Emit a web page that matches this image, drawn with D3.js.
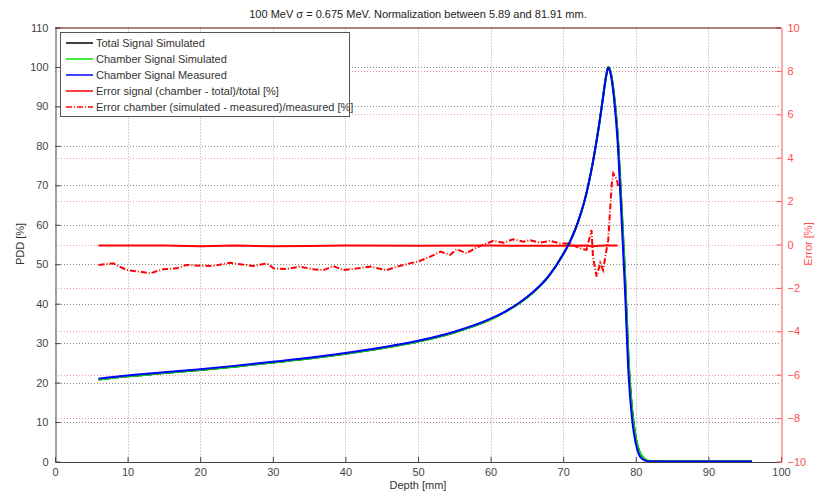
<!DOCTYPE html>
<html>
<head>
<meta charset="utf-8">
<script src="https://cdn.jsdelivr.net/npm/d3@7"></script>
<style>
body { margin: 0; background: #fff; }
text { font-family: "Liberation Sans", Arial, sans-serif; }
</style>
</head>
<body>
<script>
// depth grid for the PDD curves [mm]
var depth = [6, 10, 15, 20, 25, 30, 35, 40, 45, 50, 55, 60, 62, 64, 66, 68, 70, 71, 72, 73, 74, 75, 75.5, 76, 76.2, 76.5, 77, 77.5, 78, 78.5, 79, 79.5, 80, 80.5, 81, 81.5, 82, 85, 90, 96];
var totalSim = [20.8, 21.6, 22.4, 23.2, 24.1, 25.1, 26.1, 27.3, 28.7, 30.4, 32.7, 36.0, 37.9, 40.2, 43.1, 47.0, 52.6, 56.0, 60.5, 66.5, 75.0, 86.0, 92.5, 98.6, 100, 99.0, 93.0, 83.0, 66.0, 48.0, 26.0, 13.0, 6.0, 2.5, 1.0, 0.3, 0.05, 0, 0, 0];
var chamberSim = [20.8, 21.6, 22.4, 23.2, 24.1, 25.1, 26.1, 27.3, 28.7, 30.4, 32.7, 36.0, 37.9, 40.2, 43.1, 47.0, 52.6, 56.0, 60.5, 66.5, 75.0, 86.0, 92.5, 98.6, 100, 99.0, 93.0, 83.0, 66.0, 48.0, 26.0, 13.0, 6.0, 2.5, 1.0, 0.3, 0.05, 0, 0, 0];
var chamberMeas = [21.0, 21.8, 22.6, 23.4, 24.3, 25.3, 26.3, 27.5, 28.9, 30.6, 32.9, 36.2, 38.0, 40.3, 43.2, 47.0, 52.5, 56.0, 60.5, 66.5, 75.0, 86.0, 92.5, 98.5, 99.8, 98.5, 92.0, 81.0, 63.0, 44.0, 22.0, 10.5, 4.5, 1.5, 0.5, 0.1, 0, 0, 0, 0];

// (chamber - total)/total [%]
var errSigDepth = [6, 15, 20, 25, 30, 35, 40, 50, 60, 70, 73, 74, 75, 76, 77.5];
var errSig = [-0.05, -0.05, -0.08, -0.05, -0.08, -0.07, -0.05, -0.06, -0.05, -0.06, -0.05, -0.08, -0.06, -0.05, -0.05];

// (simulated - measured)/measured [%]
var errChDepth = [6, 8, 9.9, 11.7, 13.1, 14.9, 16.8, 18.1, 20, 21.8, 24.1, 25.5, 27.3, 29.2, 30.1, 31.9, 33.7, 35.6, 37, 38.3, 39.7, 41.6, 43.4, 45.7, 47.1, 48.9, 50.3, 51.7, 53.1, 54.4, 55.3, 56.7, 58.1, 59.5, 60.4, 61.8, 63.1, 64.5, 65.4, 66.8, 68.2, 69.6, 70.9, 72.3, 73.2, 73.9, 74.1, 74.6, 75.1, 75.5, 75.8, 76.2, 76.4, 76.7, 76.9, 77.4, 77.6];
var errCh = [-0.94, -0.87, -1.18, -1.25, -1.33, -1.14, -1.1, -0.94, -0.98, -0.99, -0.84, -0.91, -0.99, -0.87, -1.1, -1.13, -1.02, -1.14, -1.18, -0.99, -1.18, -1.1, -1.02, -1.18, -1.02, -0.87, -0.75, -0.56, -0.33, -0.48, -0.22, -0.41, -0.13, 0.05, 0.17, 0.08, 0.24, 0.13, 0.2, 0.08, 0.17, 0.05, 0.05, -0.18, -0.25, 0.67, -0.56, -1.48, -0.85, -1.18, -0.56, 0.2, 1.28, 2.82, 3.28, 2.97, 2.66];

var xTicks = d3.range(0, 101, 10);
var yTicks = d3.range(0, 111, 10);
var y2Ticks = d3.range(-10, 11, 2);

var title = "100 MeV \u03c3 = 0.675 MeV. Normalization between 5.89 and 81.91 mm.";
var legendItems = [
    {name: "Total Signal Simulated", color: "#000", dash: null},
    {name: "Chamber Signal Simulated", color: "#00e000", dash: null},
    {name: "Chamber Signal Measured", color: "#0000ff", dash: null},
    {name: "Error signal (chamber - total)/total [%]", color: "#ff0000", dash: null},
    {name: "Error chamber (simulated - measured)/measured [%]", color: "#ff0000", dash: "6,2,1,2"}
];

var width = 823, height = 494;
var pLeft = 55, pRight = 781, pTop = 27.5, pBottom = 461.5;

var x = d3.scaleLinear().domain([0, 100]).range([pLeft, pRight]);
var y = d3.scaleLinear().domain([0, 110]).range([pBottom, pTop]);
var y2 = d3.scaleLinear().domain([-10, 10]).range([pBottom, pTop]);

var svg = d3.select("body").append("svg")
    .attr("width", width)
    .attr("height", height);

svg.append("rect")
    .attr("width", width)
    .attr("height", height)
    .attr("fill", "#fff");

// grid
svg.append("g").selectAll("line").data(y2Ticks.slice(1, -1))
    .enter().append("line")
    .attr("x1", pLeft).attr("x2", pRight)
    .attr("y1", function(d) { return Math.round(y2(d)) + 0.5; })
    .attr("y2", function(d) { return Math.round(y2(d)) + 0.5; })
    .attr("stroke", "#f4a0a0")
    .attr("stroke-dasharray", "1,2");

svg.append("g").selectAll("line").data(yTicks.slice(1, -1))
    .enter().append("line")
    .attr("x1", pLeft).attr("x2", pRight)
    .attr("y1", function(d) { return Math.round(y(d)) + 0.5; })
    .attr("y2", function(d) { return Math.round(y(d)) + 0.5; })
    .attr("stroke", "#888")
    .attr("stroke-dasharray", "1,2");

svg.append("g").selectAll("line").data(xTicks.slice(1, -1))
    .enter().append("line")
    .attr("y1", pTop).attr("y2", pBottom)
    .attr("x1", function(d) { return Math.round(x(d)) + 0.5; })
    .attr("x2", function(d) { return Math.round(x(d)) + 0.5; })
    .attr("stroke", "#aaa")
    .attr("stroke-dasharray", "1,2");

// curves
var line = d3.line()
    .x(function(d) { return x(d[0]); })
    .y(function(d) { return y(d[1]); })
    .curve(d3.curveMonotoneX);
var line2 = d3.line()
    .x(function(d) { return x(d[0]); })
    .y(function(d) { return y2(d[1]); });

svg.append("path")
    .datum(d3.zip(errSigDepth, errSig))
    .attr("d", line2)
    .attr("fill", "none")
    .attr("stroke", "#ff0000")
    .attr("stroke-width", 2);

svg.append("path")
    .datum(d3.zip(errChDepth, errCh))
    .attr("d", line2)
    .attr("fill", "none")
    .attr("stroke", "#ff0000")
    .attr("stroke-width", 2)
    .attr("stroke-dasharray", "6,2,1,2");

svg.append("path")
    .datum(d3.zip(depth, totalSim))
    .attr("d", line)
    .attr("fill", "none")
    .attr("stroke", "#000")
    .attr("stroke-width", 2);

svg.append("path")
    .datum(d3.zip(depth, chamberSim))
    .attr("d", line)
    .attr("fill", "none")
    .attr("stroke", "#00e000")
    .attr("stroke-width", 2);

svg.append("path")
    .datum(d3.zip(depth, chamberMeas))
    .attr("d", line)
    .attr("fill", "none")
    .attr("stroke", "#0000ff")
    .attr("stroke-width", 2);

// axes
var axLeft = svg.append("g")
    .attr("transform", "translate(" + (pLeft + 0.5) + ",0)")
    .call(d3.axisLeft(y).tickValues(yTicks).tickSizeInner(-5).tickSizeOuter(0).tickPadding(7));
var axBottom = svg.append("g")
    .attr("transform", "translate(0," + (pBottom + 0.5) + ")")
    .call(d3.axisBottom(x).tickValues(xTicks).tickSizeInner(-5).tickSizeOuter(0).tickPadding(6));
var axRight = svg.append("g")
    .attr("transform", "translate(" + (pRight + 0.5) + ",0)")
    .call(d3.axisRight(y2).tickValues(y2Ticks).tickSizeInner(-5).tickSizeOuter(0).tickPadding(6));

[axLeft, axBottom].forEach(function(a) {
    a.selectAll("path, line").attr("stroke", "#444");
    a.selectAll("text").attr("fill", "#444").style("font-size", "11px");
});
axRight.selectAll("path, line").attr("stroke", "#ff5050");
axRight.selectAll("text").attr("fill", "#ff5050").style("font-size", "11px");

svg.append("line")
    .attr("x1", pLeft).attr("x2", pRight)
    .attr("y1", pTop + 0.5).attr("y2", pTop + 0.5)
    .attr("stroke", "#600");

// labels
svg.append("text")
    .attr("x", 418).attr("y", 18)
    .attr("text-anchor", "middle")
    .attr("fill", "#222")
    .style("font-size", "11px")
    .text(title);

svg.append("text")
    .attr("x", 418).attr("y", 489)
    .attr("text-anchor", "middle")
    .attr("fill", "#333")
    .style("font-size", "11px")
    .text("Depth [mm]");

svg.append("text")
    .attr("transform", "translate(24,244) rotate(-90)")
    .attr("text-anchor", "middle")
    .attr("fill", "#333")
    .style("font-size", "11px")
    .text("PDD [%]");

svg.append("text")
    .attr("transform", "translate(812,244) rotate(-90)")
    .attr("text-anchor", "middle")
    .attr("fill", "#ff5050")
    .style("font-size", "11px")
    .text("Error [%]");

// legend
var lg = svg.append("g");
lg.append("rect")
    .attr("x", 60.5).attr("y", 32.5)
    .attr("width", 289).attr("height", 84)
    .attr("fill", "#fff")
    .attr("stroke", "#555");

var rows = lg.selectAll(".row").data(legendItems)
    .enter().append("g")
    .attr("transform", function(d, i) { return "translate(0," + (43 + i * 16) + ")"; });
rows.append("line")
    .attr("x1", 66).attr("x2", 93)
    .attr("stroke", function(d) { return d.color; })
    .attr("stroke-width", 1.5)
    .attr("stroke-dasharray", function(d) { return d.dash; });
rows.append("text")
    .attr("x", 96).attr("y", 4)
    .attr("fill", "#333")
    .style("font-size", "11px")
    .text(function(d) { return d.name; });
</script>
</body>
</html>
